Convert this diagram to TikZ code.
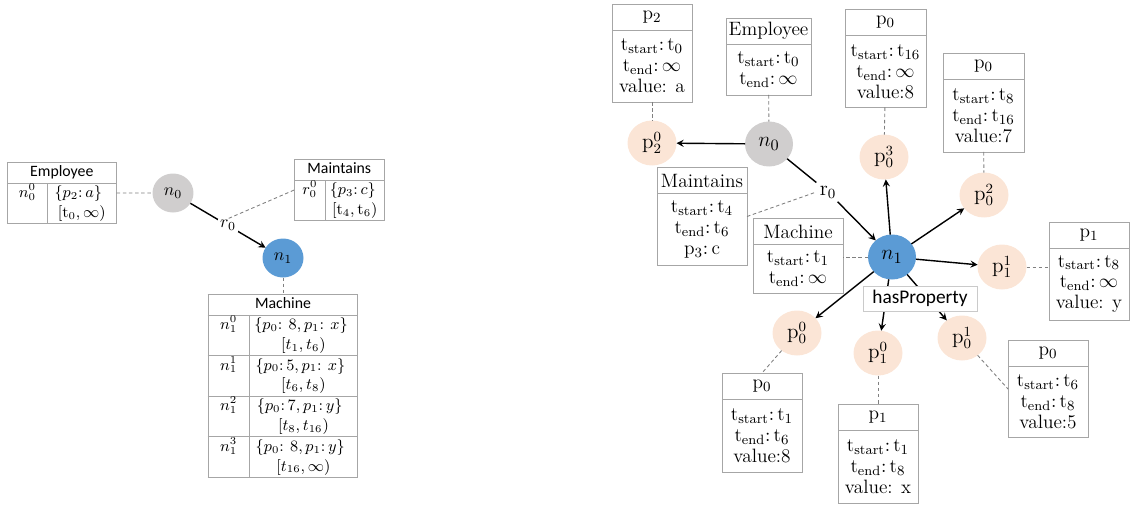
\documentclass[tikz,border=0pt]{standalone}
\usepackage{fontspec}
\newfontfamily\calibri{Carlito}
\usepackage{array}
\usepackage{colortbl}
\usetikzlibrary{positioning,shapes.geometric}
\definecolor{nodegray}{HTML}{D0CECE}
\definecolor{nodeblue}{HTML}{5B9BD5}
\definecolor{propfill}{HTML}{FBE5D6}
\definecolor{boxline}{HTML}{A6A6A6}
\newcolumntype{C}[1]{>{\centering\arraybackslash}p{#1}}
\arrayrulecolor{boxline}
\setlength{\arrayrulewidth}{0.5pt}
\setlength{\tabcolsep}{0pt}

\begin{document}
\begin{tikzpicture}[x=0.02cm, y=-0.02cm, thick, >=stealth, every node/.style={inner sep=0pt, outer sep=0pt}]

\tikzstyle{entity}=[ellipse, minimum width=0.96cm, minimum height=0.9cm, font=\fontsize{12.5}{14}\selectfont]
\tikzstyle{prop}=[ellipse, fill=propfill, minimum width=0.98cm, minimum height=0.9cm, font=\fontsize{12}{14}\selectfont]
\tikzstyle{small entity}=[ellipse, minimum width=0.82cm, minimum height=0.78cm, font=\fontsize{10}{12}\selectfont]
\tikzstyle{head}=[draw=boxline, line width=0.5pt, minimum height=0.52cm, font=\fontsize{11}{12}\selectfont]
\tikzstyle{body}=[draw=boxline, line width=0.5pt, align=center, font=\fontsize{11}{11.9}\selectfont]
\tikzstyle{link}=[draw=gray, line width=0.5pt, dash pattern=on 2pt off 1.5pt]
\tikzstyle{rel}=[->, black]
\tikzstyle{table}=[anchor=north west, font=\calibri\fontsize{9}{11.3}\selectfont]

\useasboundingbox (0,0) rectangle (1131,504);

\node[table] (lemp) at (7,162) {\begin{tabular}{|C{0.78cm}|C{1.36cm}|}\hline
\multicolumn{2}{|c|}{Employee}\\\hline
$n_0^0$ & $\{p_2\colon a\}$\newline $[\mathrm{t}_0,\infty)$\\\hline
\end{tabular}};
\node[table] (lmnt) at (294,159) {\begin{tabular}{|C{0.6cm}|C{1.16cm}|}\hline
\multicolumn{2}{|c|}{Maintains}\\\hline
$r_0^0$ & $\{p_3\colon c\}$\newline $[\mathrm{t}_4,\mathrm{t}_6)$\\\hline
\end{tabular}};
\node[table, anchor=north] (lmch) at (283,294) {\begin{tabular}{|C{0.8cm}|C{2.16cm}|}\hline
\multicolumn{2}{|c|}{Machine}\\\hline
$n_1^0$ & $\{p_0\colon\ 8, p_1\colon\ x\}$\newline $[t_1,t_6)$\\\hline
$n_1^1$ & $\{p_0\colon 5, p_1\colon\ x\}$\newline $[t_6,t_8)$\\\hline
$n_1^2$ & $\{p_0\colon 7, p_1\colon y\}$\newline $[t_8,t_{16})$\\\hline
$n_1^3$ & $\{p_0\colon\ 8, p_1\colon y\}$\newline $[t_{16},\infty)$\\\hline
\end{tabular}};

\node[small entity, fill=nodegray] (ln0) at (173,193) {$n_0$};
\node[small entity, fill=nodeblue] (ln1) at (283,258) {$n_1$};

\draw[rel] (ln0) -- node[fill=white, inner sep=1pt, font=\fontsize{10}{12}\selectfont] (lr0) {$r_0$} (ln1);
\draw[link] (lemp) -- (ln0);
\draw[link] (lmnt.west) -- (lr0.north);
\draw[link] (ln1) -- (lmch);

\node[head, minimum width=1.6cm] (p2h) at (652,17) {$\mathrm{p}_2$};
\node[body, minimum width=1.6cm, minimum height=1.44cm, below=0pt of p2h] (p2b) {$\mathrm{t}_{\mathrm{start}}\colon\mathrm{t}_0$\\$\mathrm{t}_{\mathrm{end}}\colon\infty$\\value: a};
\node[head, minimum width=1.7cm] (emph) at (768.5,31) {Employee};
\node[body, minimum width=1.7cm, minimum height=1.02cm, below=0pt of emph] (empb) {$\mathrm{t}_{\mathrm{start}}\colon\mathrm{t}_0$\\$\mathrm{t}_{\mathrm{end}}\colon\infty$};
\node[head, minimum width=1.62cm] (p0ah) at (885.5,22.5) {$\mathrm{p}_0$};
\node[body, minimum width=1.62cm, minimum height=1.44cm, below=0pt of p0ah] (p0ab) {$\mathrm{t}_{\mathrm{start}}\colon\mathrm{t}_{16}$\\$\mathrm{t}_{\mathrm{end}}\colon\infty$\\value:8};
\node[head, minimum width=1.62cm] (p0bh) at (983.5,66) {$\mathrm{p}_0$};
\node[body, minimum width=1.62cm, minimum height=1.46cm, below=0pt of p0bh] (p0bb) {$\mathrm{t}_{\mathrm{start}}\colon\mathrm{t}_8$\\$\mathrm{t}_{\mathrm{end}}\colon\mathrm{t}_{16}$\\value:7};
\node[head, minimum width=1.8cm] (mnth) at (702,180.5) {Maintains};
\node[body, minimum width=1.8cm, minimum height=1.44cm, below=0pt of mnth] (mntb) {$\mathrm{t}_{\mathrm{start}}\colon\mathrm{t}_4$\\$\mathrm{t}_{\mathrm{end}}\colon\mathrm{t}_6$\\$\mathrm{p}_3\colon\mathrm{c}$};
\node[head, minimum width=1.8cm] (mchh) at (798,231.5) {Machine};
\node[body, minimum width=1.8cm, minimum height=0.98cm, below=0pt of mchh] (mchb) {$\mathrm{t}_{\mathrm{start}}\colon\mathrm{t}_1$\\$\mathrm{t}_{\mathrm{end}}\colon\infty$};
\node[head, minimum width=1.6cm] (p1ah) at (1089,235) {$\mathrm{p}_1$};
\node[body, minimum width=1.6cm, minimum height=1.44cm, below=0pt of p1ah] (p1ab) {$\mathrm{t}_{\mathrm{start}}\colon\mathrm{t}_8$\\$\mathrm{t}_{\mathrm{end}}\colon\infty$\\value: y};
\node[head, minimum width=1.6cm] (p0ch) at (762,386) {$\mathrm{p}_0$};
\node[body, minimum width=1.6cm, minimum height=1.46cm, below=0pt of p0ch] (p0cb) {$\mathrm{t}_{\mathrm{start}}\colon\mathrm{t}_1$\\$\mathrm{t}_{\mathrm{end}}\colon\mathrm{t}_6$\\value:8};
\node[head, minimum width=1.6cm] (p1bh) at (878,417.5) {$\mathrm{p}_1$};
\node[body, minimum width=1.6cm, minimum height=1.46cm, below=0pt of p1bh] (p1bb) {$\mathrm{t}_{\mathrm{start}}\colon\mathrm{t}_1$\\$\mathrm{t}_{\mathrm{end}}\colon\mathrm{t}_8$\\value: x};
\node[head, minimum width=1.6cm] (p0dh) at (1048,353.5) {$\mathrm{p}_0$};
\node[body, minimum width=1.6cm, minimum height=1.42cm, below=0pt of p0dh] (p0db) {$\mathrm{t}_{\mathrm{start}}\colon\mathrm{t}_6$\\$\mathrm{t}_{\mathrm{end}}\colon\mathrm{t}_8$\\value:5};

\node[entity, fill=nodegray] (n0) at (769,144) {$n_0$};
\node[entity, fill=nodeblue] (n1) at (892,257) {$n_1$};
\node[prop] (p20) at (652,143) {$\mathrm{p}_2^0$};
\node[prop] (p03) at (884,157) {$\mathrm{p}_0^3$};
\node[prop] (p02) at (984,195) {$\mathrm{p}_0^2$};
\node[prop] (p11) at (1002,267) {$\mathrm{p}_1^1$};
\node[prop] (p00) at (797,333) {$\mathrm{p}_0^0$};
\node[prop] (p10) at (878,353) {$\mathrm{p}_1^0$};
\node[prop] (p01) at (962,338) {$\mathrm{p}_0^1$};
\node[inner sep=2pt, font=\fontsize{12}{14}\selectfont] (r0) at (828,192) {$\mathrm{r}_0$};

\draw[link] (p2b) -- (p20);
\draw[link] (empb) -- (n0);
\draw[link] (p0ab) -- (p03);
\draw[link] (p0bb) -- (p02);
\draw[link] ([yshift=0.26cm]mntb.east) -- (r0.west);
\draw[link] (n1) -- (n1 -| mchb.east);
\draw[link] (p11) -- (p11 -| p1ab.west);
\draw[link] (p00) -- (p0ch.north);
\draw[link] (p10) -- (p1bh);
\draw[link] (p01) -- ([yshift=0.26cm]p0db.west);

\draw[rel] (n0) -- (p20);
\draw (n0) -- (r0);
\draw[rel] (r0) -- (n1);
\draw[rel] (n1) -- (p03);
\draw[rel] (n1) -- (p02);
\draw[rel] (n1) -- (p11);
\draw[rel] (n1) -- (p00);
\draw[rel] (n1) -- (p10);
\draw[rel] (n1) -- (p01);

\node[draw=boxline!60, line width=0.5pt, fill=white, minimum width=2.28cm, minimum height=0.5cm, font=\calibri\fontsize{11}{13}\selectfont] (hasprop) at (920,298.5) {hasProperty};

\end{tikzpicture}
\end{document}
